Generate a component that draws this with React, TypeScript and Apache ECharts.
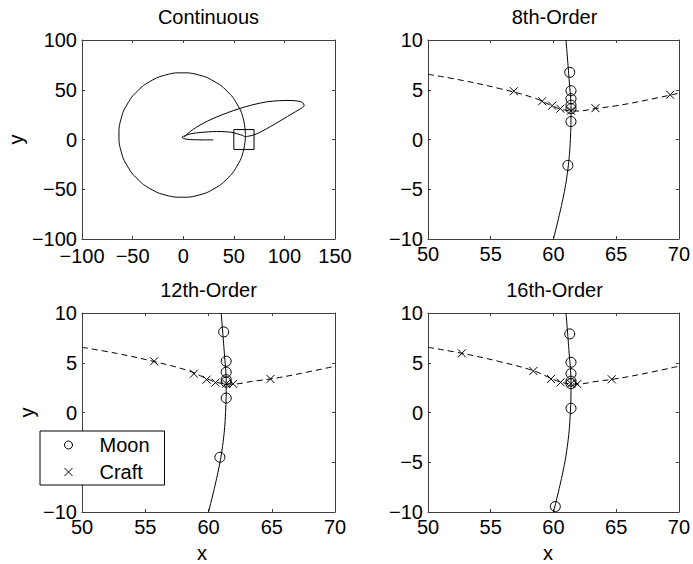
import React, { useEffect, useRef } from "react";
import * as echarts from "echarts";

// ---------- data ----------
// Panel 1: continuous solution
const moonOrbit: number[][] = [
  [61.5, 4.5], [59.4, 20.7], [53.1, 35.8], [43.2, 48.7], [30.3, 58.6], [15.2, 64.9],
  [-1, 67], [-17.2, 64.9], [-32.3, 58.6], [-45.2, 48.7], [-55.1, 35.8], [-61.4, 20.7],
  [-63.5, 4.5], [-61.4, -11.7], [-55.1, -26.8], [-45.2, -39.7], [-32.3, -49.6], [-17.2, -55.9],
  [-1, -58], [15.2, -55.9], [30.3, -49.6], [43.2, -39.7], [53.1, -26.8], [59.4, -11.7], [61.5, 4.5],
];
const craftPath: number[][] = [
  [29.7, -0.4], [20, -0.4], [10, -0.2], [4, 0.2], [1.2, 0.7], [-0.6, 1.5], [-0.8, 2.7], [0.8, 3.4],
  [4, 4.8], [10, 6.2], [16.6, 7.0], [25, 7.7], [33, 8.0], [42, 7.8], [49.5, 6.9], [55, 5.2],
  [58.4, 4.2], [59.9, 3.38], [60.6, 3.04], [61.4, 2.88], [61.95, 2.86], [63.4, 3.12], [64.9, 3.37],
  [69.3, 4.47], [75, 6.8], [82.4, 10.8], [90, 15.2], [98.9, 20.6], [107, 25.6], [115.4, 30.6],
  [119.5, 34], [118, 37.2], [113, 38.7], [105.5, 39.2], [95, 39], [82.4, 37.8], [70, 35.2],
  [56, 31.2], [44, 27], [33, 22.6], [24, 18.5], [16.6, 14.5], [10, 10.3], [5, 6.4], [2.5, 4], [1, 2.2],
];
const zoomBox: number[][] = [[50, -10], [70, -10], [70, 10], [50, 10], [50, -10]];

// Panels 2-4: close-up of the lunar fly-by
const moonArc: number[][] = [
  [61.0, 10], [61.25, 6], [61.4, 3], [61.35, 0], [61.15, -3], [60.75, -6], [60.0, -10],
];
const craftArc: number[][] = [
  [50, 6.55], [52.7, 5.95], [55.7, 5.12], [58.4, 4.2], [59.9, 3.38], [60.6, 3.04], [61.4, 2.88],
  [61.95, 2.86], [63.4, 3.12], [64.9, 3.37], [67, 3.85], [70, 4.65],
];
const moon8: number[][] = [[61.3, 6.75], [61.4, 4.9], [61.4, 4.1], [61.4, 3.45], [61.4, 3.1], [61.4, 1.8], [61.15, -2.6]];
const craft8: number[][] = [[56.85, 4.85], [59.1, 3.85], [59.9, 3.4], [60.55, 3.1], [61.4, 2.9], [63.35, 3.15], [69.3, 4.5]];
const moon12: number[][] = [[61.2, 8.1], [61.4, 5.15], [61.4, 4.05], [61.4, 3.3], [61.4, 3.05], [61.4, 1.45], [60.9, -4.5]];
const craft12: number[][] = [[55.7, 5.15], [58.85, 3.9], [59.85, 3.3], [60.55, 3.0], [61.4, 2.9], [61.95, 2.88], [64.9, 3.37]];
const moon16: number[][] = [[61.3, 7.9], [61.4, 5.05], [61.4, 3.9], [61.4, 3.15], [61.4, 2.9], [61.4, 0.42], [60.15, -9.45]];
const craft16: number[][] = [[52.7, 5.95], [58.4, 4.17], [59.8, 3.37], [60.57, 3.03], [61.4, 2.9], [61.9, 2.86], [64.65, 3.34]];

const titles = ["Continuous", "8th-Order", "12th-Order", "16th-Order"];
const xRanges = [[-100, 150, 50], [50, 70, 5], [50, 70, 5], [50, 70, 5]];
const yRanges = [[-100, 100, 50], [-10, 10, 5], [-10, 10, 5], [-10, 10, 5]];

// ---------- layout / style ----------
const FONT = "'Liberation Sans', Arial, Helvetica, sans-serif";
const FS = 20;
const grids = [
  { left: 82, top: 40, width: 253, height: 199 },
  { left: 428, top: 40, width: 253, height: 199 },
  { left: 82, top: 313, width: 253, height: 199 },
  { left: 428, top: 313, width: 253, height: 199 },
];
const CROSS = "path://M0,0L10,10M10,0L0,10";
const AXIS_COLOR = "#404040";

const fmt = (v: number) => (v < 0 ? "\u2212" + Math.abs(v) : String(v));

function axis(kind: "x" | "y", i: number, main: boolean) {
  const r = kind === "x" ? xRanges[i] : yRanges[i];
  return {
    type: "value",
    gridIndex: i,
    position: kind === "x" ? (main ? "bottom" : "top") : main ? "left" : "right",
    min: r[0],
    max: r[1],
    interval: r[2],
    axisLine: { show: true, onZero: false, lineStyle: { color: AXIS_COLOR, width: 1 } },
    axisTick: { show: true, inside: true, length: 3, lineStyle: { color: AXIS_COLOR } },
    splitLine: { show: false },
    axisLabel: {
      show: main,
      formatter: fmt,
      fontFamily: FONT,
      fontSize: FS,
      lineHeight: 14,
      color: "#000",
      margin: kind === "x" ? (i === 0 ? 10 : 8) : 5,
      showMinLabel: true,
      showMaxLabel: true,
    },
  };
}

const lineStyle = { color: "#000", width: 1 };

function lineSeries(name: string, data: number[][], gi: number, dashed = false, smooth: number | boolean = 0.3) {
  return {
    type: "line",
    name,
    xAxisIndex: gi,
    yAxisIndex: gi,
    data,
    symbol: "none",
    smooth,
    lineStyle: dashed ? { ...lineStyle, type: [6, 4] } : lineStyle,
    silent: true,
  };
}

function markerSeries(name: string, data: number[][], gi: number) {
  const isMoon = name === "Moon";
  return {
    type: "scatter",
    name,
    xAxisIndex: gi,
    yAxisIndex: gi,
    data,
    symbol: isMoon ? "circle" : CROSS,
    symbolSize: isMoon ? 10 : 8,
    itemStyle: { color: "rgba(0,0,0,0)", borderColor: "#000", borderWidth: 1, opacity: 1 },
    silent: true,
  };
}

export default function App() {
  const ref = useRef<HTMLDivElement>(null);
  useEffect(() => {
    if (!ref.current) return;
    const chart = echarts.init(ref.current, undefined, { renderer: "svg" });
    const closeMoon = [moon8, moon12, moon16];
    const closeCraft = [craft8, craft12, craft16];
    const series: any[] = [
      lineSeries("moonOrbit", moonOrbit, 0, false, 0.5),
      lineSeries("craftPath", craftPath, 0, false, 0.3),
      lineSeries("zoomBox", zoomBox, 0, false, false),
    ];
    for (let k = 0; k < 3; k++) {
      const gi = k + 1;
      series.push(lineSeries("moonArc" + gi, moonArc, gi, false, 0.4));
      series.push(lineSeries("craftArc" + gi, craftArc, gi, true, 0.4));
      series.push(markerSeries("Moon", closeMoon[k], gi));
      series.push(markerSeries("Craft", closeCraft[k], gi));
    }
    const titlePos = [[208.5, 16.5], [554.5, 16.5], [208.5, 290], [554.5, 290]];
    const textStyleBase = { fill: "#000", font: `${FS}px ${FONT}`, align: "center", verticalAlign: "middle" };
    const graphics: any[] = titles.map((t, i) => ({
      type: "text",
      x: titlePos[i][0],
      y: titlePos[i][1],
      style: { ...textStyleBase, text: t },
      silent: true,
    }));
    graphics.push(
      { type: "text", x: 16, y: 139.5, rotation: Math.PI / 2, style: { ...textStyleBase, text: "y" }, silent: true },
      { type: "text", x: 27, y: 412.5, rotation: Math.PI / 2, style: { ...textStyleBase, text: "y" }, silent: true },
      { type: "text", x: 202, y: 553, style: { ...textStyleBase, text: "x" }, silent: true },
      { type: "text", x: 548, y: 553, style: { ...textStyleBase, text: "x" }, silent: true }
    );
    chart.setOption({
      animation: false,
      backgroundColor: "#fff",
      grid: grids.map((g) => ({ ...g, containLabel: false })),
      xAxis: [0, 1, 2, 3].map((i) => axis("x", i, true)).concat([0, 1, 2, 3].map((i) => axis("x", i, false))),
      yAxis: [0, 1, 2, 3].map((i) => axis("y", i, true)).concat([0, 1, 2, 3].map((i) => axis("y", i, false))),
      legend: {
        show: true,
        left: 40,
        top: 431,
        orient: "vertical",
        selectedMode: false,
        backgroundColor: "#fff",
        borderColor: "#000",
        borderWidth: 1,
        borderRadius: 0,
        padding: [4, 15, 3, 24],
        itemGap: 7,
        itemWidth: 8,
        itemHeight: 8,
        textStyle: { fontFamily: FONT, fontSize: FS, color: "#000", lineHeight: 20, padding: [0, 0, 0, 22] },
        data: [
          { name: "Moon", icon: "circle", itemStyle: { color: "rgba(0,0,0,0)", borderColor: "#000", borderWidth: 1 } },
          { name: "Craft", icon: CROSS, itemStyle: { color: "rgba(0,0,0,0)", borderColor: "#000", borderWidth: 1 } },
        ],
      },
      graphic: graphics,
      series,
    });
    return () => chart.dispose();
  }, []);
  return (
    <div
      ref={ref}
      style={{ position: "fixed", left: 0, top: 0, width: 693, height: 564, background: "#fff" }}
    />
  );
}
